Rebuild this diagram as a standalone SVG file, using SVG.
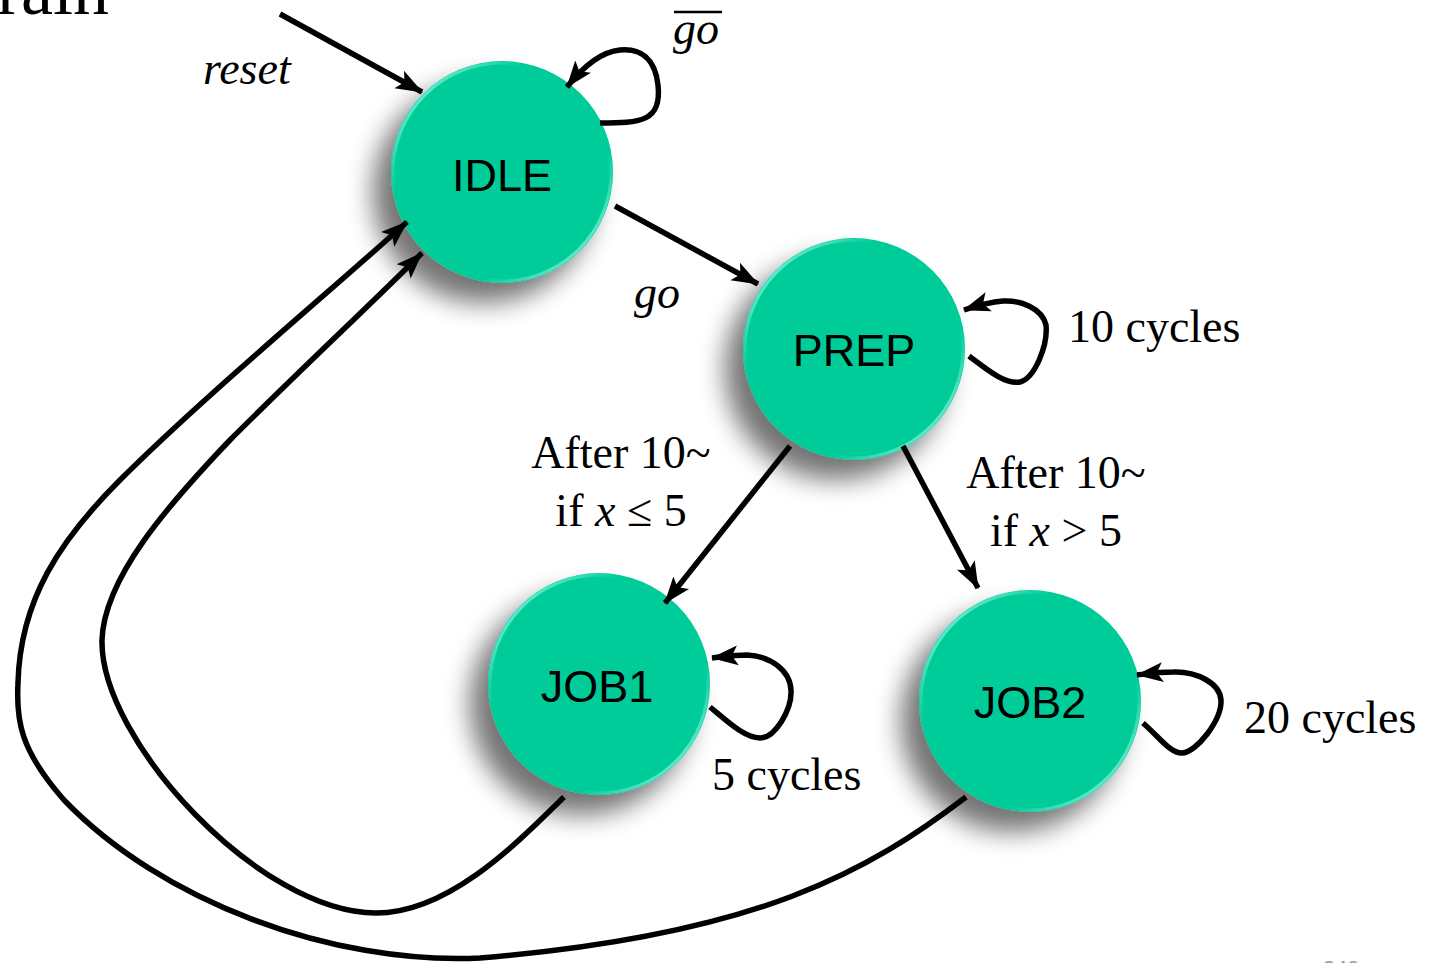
<svg xmlns="http://www.w3.org/2000/svg" width="1441" height="963" viewBox="0 0 1441 963">
<defs>
<filter id="sh" x="-50%" y="-50%" width="200%" height="200%">
<feGaussianBlur in="SourceAlpha" stdDeviation="13"/>
<feOffset dx="-18" dy="20" result="b"/>
<feComponentTransfer><feFuncA type="linear" slope="0.55"/></feComponentTransfer>
<feMerge><feMergeNode/><feMergeNode in="SourceGraphic"/></feMerge>
</filter>
<linearGradient id="rim" x1="0" y1="0" x2="1" y2="1">
<stop offset="0" stop-color="#b5fff8" stop-opacity="1"/>
<stop offset="0.3" stop-color="#b5fff8" stop-opacity="0"/>
<stop offset="0.7" stop-color="#b5fff8" stop-opacity="0"/>
<stop offset="1" stop-color="#b5fff8" stop-opacity="1"/>
</linearGradient>
<marker id="ah" markerUnits="userSpaceOnUse" markerWidth="28" markerHeight="22" refX="26" refY="11" orient="auto">
<path d="M0,1 L27,11 L0,21 L6,11 Z" fill="#000"/>
</marker>
</defs>
<style>
.node{fill:#03CC99}
.rim{fill:none;stroke:url(#rim);stroke-width:3}
.nl{font-family:"Liberation Sans",Arial,sans-serif;font-size:45px;fill:#000;text-anchor:middle}
.lb{font-family:"Liberation Serif","Times New Roman",serif;font-size:46px;fill:#000}
.it{font-style:italic}
.e{fill:none;stroke:#000;stroke-width:5.5;marker-end:url(#ah)}
</style>
<rect width="1441" height="963" fill="#fff"/>
<text class="lb" x="-3" y="14" style="font-size:72px">rain</text>
<g id="IDLE">
<circle class="node" cx="502" cy="172" r="111" filter="url(#sh)"/>
<circle class="rim" cx="502" cy="172" r="109"/>
<text class="nl" x="502" y="191">IDLE</text>
</g>
<g id="PREP">
<circle class="node" cx="854" cy="349" r="111" filter="url(#sh)"/>
<circle class="rim" cx="854" cy="349" r="109"/>
<text class="nl" x="854" y="366">PREP</text>
</g>
<g id="JOB1">
<circle class="node" cx="599" cy="684" r="111" filter="url(#sh)"/>
<circle class="rim" cx="599" cy="684" r="109"/>
<text class="nl" x="597" y="702">JOB1</text>
</g>
<g id="JOB2">
<circle class="node" cx="1030" cy="701" r="111" filter="url(#sh)"/>
<circle class="rim" cx="1030" cy="701" r="109"/>
<text class="nl" x="1030" y="718">JOB2</text>
</g>
<g id="connectors">
<path class="e" d="M280,14 L422,92"/>
<path class="e" d="M600,123 C640,123 662,122 658,85 C655,58 640,48 620,50 C600,52 582,68 567,87"/>
<path class="e" d="M615,206 L758,284"/>
<path class="e" d="M969,356 C985,368 1005,385 1020,382 C1035,378 1048,345 1046,325 C1042,308 1020,300 1003,301 C990,302 976,306 964,310"/>
<path class="e" d="M790,446 L665,603"/>
<path class="e" d="M903,446 L978,588"/>
<path class="e" d="M710,707 C728,722 745,738 760,738 C775,738 792,710 791,690 C790,670 770,656 747,655 C735,655 722,657 712,658"/>
<path class="e" d="M1143,723 C1160,738 1170,753 1182,753 C1196,753 1222,720 1221,700 C1220,683 1196,671 1173,672 C1160,672 1146,674 1137,675"/>
<path class="e" d="M564,797 C520,840 450,913 376,913 C260,913 100,740 102,640 C104,578 168,505 230,440 C300,370 370,305 422,253"/>
<path class="e" d="M966,797 C870,870 760,935 480,958 C330,965 160,900 64,800 C20,750 16,720 18,683 C20,600 60,540 120,480 C200,400 320,300 407,222"/>
</g>
<g id="labels">
<text class="lb it" x="203" y="84">reset</text>
<text class="lb it" x="673" y="44">go</text>
<line x1="674" y1="12" x2="722" y2="12" stroke="#000" stroke-width="2.5"/>
<text class="lb it" x="634" y="308">go</text>
<text class="lb" x="1068" y="342">10 cycles</text>
<text class="lb" x="621" y="468" text-anchor="middle">After 10~</text>
<text class="lb" x="621" y="526" text-anchor="middle">if <tspan class="it">x</tspan> ≤ 5</text>
<text class="lb" x="1056" y="488" text-anchor="middle">After 10~</text>
<text class="lb" x="1056" y="546" text-anchor="middle">if <tspan class="it">x</tspan> &gt; 5</text>
<text class="lb" x="712" y="790">5 cycles</text>
<text class="lb" x="1244" y="733">20 cycles</text>
<text x="1341" y="976" font-family="Liberation Sans,Arial,sans-serif" font-size="22" fill="#999" text-anchor="middle">240</text>
</g>
</svg>
